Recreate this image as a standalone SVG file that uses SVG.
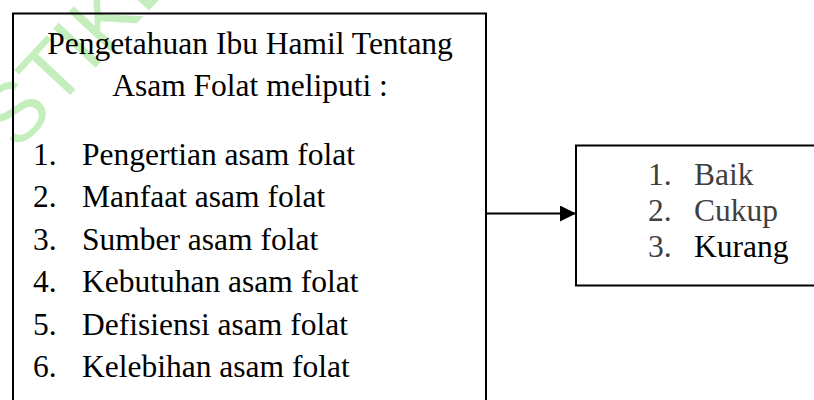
<svg xmlns="http://www.w3.org/2000/svg" width="814" height="400" viewBox="0 0 814 400">
  <defs>
    <style>
      .box { fill: none; stroke: #000000; stroke-width: 2; }
      .t { font-family: "Liberation Serif", "Times New Roman", serif; font-size: 31.5px; fill: #000000; }
      .g { fill: #404040; }
      .wm { font-family: "Liberation Sans", Arial, sans-serif; font-size: 84px; fill: #c4efbd; }
      .conn { stroke: #000000; stroke-width: 2; fill: none; }
    </style>
    <marker id="arrow" markerWidth="16" markerHeight="16" refX="16" refY="8" orient="auto" markerUnits="userSpaceOnUse">
      <path d="M0,0 L16,8 L0,16 Z" fill="#000000"/>
    </marker>
  </defs>
  <rect x="0" y="0" width="814" height="400" fill="#ffffff"/>
  <text class="wm" transform="translate(17,152) rotate(-47)">STIKE</text>

  <g id="node-pengetahuan">
    <rect class="box" x="13" y="13.5" width="473" height="400"/>
    <text class="t" x="250" y="54" text-anchor="middle">Pengetahuan Ibu Hamil Tentang</text>
    <text class="t" x="250" y="95.5" text-anchor="middle">Asam Folat meliputi :</text>
    <text class="t" x="33" y="165">1.</text><text class="t" x="82" y="165">Pengertian asam folat</text>
    <text class="t" x="33" y="207">2.</text><text class="t" x="82" y="207">Manfaat asam folat</text>
    <text class="t" x="33" y="249.5">3.</text><text class="t" x="82" y="249.5">Sumber asam folat</text>
    <text class="t" x="33" y="292">4.</text><text class="t" x="82" y="292">Kebutuhan asam folat</text>
    <text class="t" x="33" y="334.5">5.</text><text class="t" x="82" y="334.5">Defisiensi asam folat</text>
    <text class="t" x="33" y="377">6.</text><text class="t" x="82" y="377">Kelebihan asam folat</text>
  </g>

  <g id="node-kategori">
    <rect class="box" x="576" y="145.5" width="260" height="140"/>
    <text class="t g" x="648" y="185">1.</text><text class="t g" x="694" y="185">Baik</text>
    <text class="t g" x="648" y="220.5">2.</text><text class="t g" x="694" y="220.5">Cukup</text>
    <text class="t g" x="648" y="256.5">3.</text><text class="t" x="694" y="256.5">Kurang</text>
  </g>

  <g id="connectors">
    <line class="conn" x1="486" y1="213.5" x2="576" y2="213.5" marker-end="url(#arrow)"/>
  </g>
</svg>
